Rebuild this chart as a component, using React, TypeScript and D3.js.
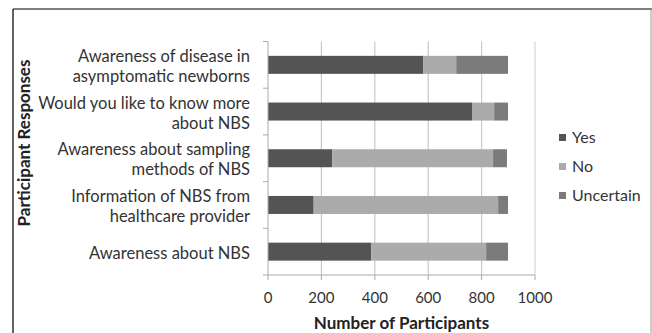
import React from "react";
import * as d3 from "d3";

const categories = [
  ["Awareness of disease in", "asymptomatic newborns"],
  ["Would you like to know more", "about NBS"],
  ["Awareness about sampling", "methods of NBS"],
  ["Information of NBS from", "healthcare provider"],
  ["Awareness about NBS"],
];
const seriesNames = ["Yes", "No", "Uncertain"];
const yesValues = [582, 764, 241, 171, 387];
const noValues = [123, 83, 602, 691, 430];
const uncertainValues = [194, 52, 52, 37, 82];
const xTicks = [0, 200, 400, 600, 800, 1000];
const colors = ["#545454", "#ababab", "#7b7b7b"];

const W = 652, H = 333;
const left = 268, right = 535, top = 41.5, bottom = 275;
const FONT = "Lato, 'Open Sans', sans-serif";

export default function App() {
  const x = d3.scaleLinear().domain([0, 1000]).range([left, right]);
  const bandStep = (bottom - top) / categories.length;
  const series = [yesValues, noValues, uncertainValues];
  const rows = categories.map((_, i) => {
    let acc = 0;
    return series.map((s, k) => {
      const x0 = acc;
      acc += s[i];
      return { x0, x1: acc, k };
    });
  });
  return (
    <svg width={W} height={H} style={{ position: "absolute", left: 0, top: 0, background: "#fff" }} fontFamily={FONT}>
      <rect x={0} y={0} width={W} height={H} fill="#fff" />
      {/* frame */}
      <line x1={13} x2={652} y1={9} y2={9} stroke="#555" strokeWidth={1.6} />
      <line x1={13} x2={13} y1={9} y2={333} stroke="#222" strokeWidth={1.4} />
      <line x1={651} x2={651} y1={9} y2={333} stroke="#999" strokeWidth={1} />
      {/* grid */}
      {xTicks.slice(1).map((t) => (
        <line key={t} x1={x(t)} x2={x(t)} y1={top} y2={bottom} stroke={t === 1000 ? "#ddd6d6" : "#cfc6c6"} strokeWidth={1.2} />
      ))}
      {/* bars */}
      {rows.map((r, i) =>
        r.map((seg) => {
          const cy = top + bandStep * (i + 0.5);
          return (
            <rect key={`${i}-${seg.k}`} x={x(seg.x0)} y={cy - 9} width={x(seg.x1) - x(seg.x0)} height={18} fill={colors[seg.k]} />
          );
        })
      )}
      {/* axes */}
      <line x1={left} x2={left} y1={top} y2={bottom} stroke="#aaa" strokeWidth={1} />
      {d3.range(categories.length + 1).map((i) => (
        <line key={i} x1={left - 5} x2={left} y1={top + bandStep * i} y2={top + bandStep * i} stroke="#aaa" />
      ))}
      <line x1={left} x2={right} y1={bottom} y2={bottom} stroke="#aaa" strokeWidth={1} />
      {xTicks.map((t) => (
        <g key={t}>
          <line x1={x(t)} x2={x(t)} y1={bottom} y2={bottom + 5} stroke="#aaa" />
          <text x={x(t)} y={303} textAnchor="middle" fontSize={15} fill="#333">{t}</text>
        </g>
      ))}
      {/* category labels */}
      {categories.map((lines, i) => {
        const cy = top + bandStep * (i + 0.5);
        const lh = 20;
        return lines.map((ln, j) => (
          <text key={`${i}-${j}`} x={250} y={cy + 7 + (j - (lines.length - 1) / 2) * lh} textAnchor="end" fontSize={16.5} fill="#333">{ln}</text>
        ));
      })}
      {/* axis titles */}
      <text x={(left + right) / 2} y={329} textAnchor="middle" fontSize={17} fontWeight="bold" fill="#222">Number of Participants</text>
      <text transform={`translate(30,143) rotate(-90)`} textAnchor="middle" fontSize={17} fontWeight="bold" fill="#222">Participant Responses</text>
      {/* legend */}
      {seriesNames.map((n, k) => {
        const ly = 137.5 + k * 29;
        return (
          <g key={n}>
            <rect x={559} y={ly - 3.5} width={7} height={7} fill={colors[k]} />
            <text x={572} y={ly + 5.5} fontSize={16} fill="#333">{n}</text>
          </g>
        );
      })}
    </svg>
  );
}
